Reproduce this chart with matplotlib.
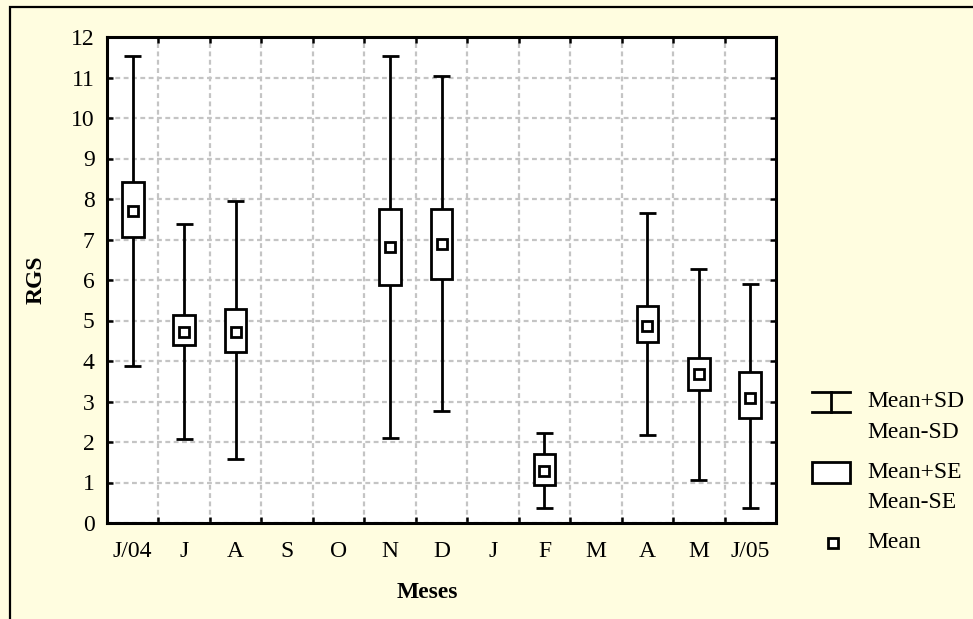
import matplotlib
matplotlib.use("Agg")
import matplotlib.pyplot as plt
from matplotlib.patches import Rectangle
from matplotlib.lines import Line2D
import numpy as np

plt.rcParams['font.family'] = ['Liberation Serif', 'DejaVu Serif']
plt.rcParams['lines.scale_dashes'] = False

# meses (J/04 .. J/05), sem dados em S, O, J, M
meses = ['J/04', 'J', 'A', 'S', 'O', 'N', 'D', 'J', 'F', 'M', 'A', 'M', 'J/05']
media = [7.70, 4.72, 4.72, None, None, 6.81, 6.89, None, 1.29, None, 4.87, 3.68, 3.08]
se_sup = [8.41, 5.14, 5.28, None, None, 7.75, 7.75, None, 1.70, None, 5.36, 4.08, 3.72]
se_inf = [7.07, 4.39, 4.23, None, None, 5.88, 6.03, None, 0.95, None, 4.46, 3.28, 2.60]
sd_sup = [11.54, 7.39, 7.94, None, None, 11.54, 11.03, None, 2.23, None, 7.65, 6.28, 5.91]
sd_inf = [3.88, 2.07, 1.59, None, None, 2.11, 2.77, None, 0.36, None, 2.18, 1.07, 0.38]

W, H = 973, 619
fs = 17
lw = 2.0
fig = plt.figure(figsize=(W / 100, H / 100), dpi=100, facecolor='#FFFDE0')
ax = fig.add_axes([107 / W, 1 - 523 / H, (776 - 107) / W, (523 - 37) / H])
ax.set_facecolor('white')

box_w = 0.42
cap_w = 0.33
for i in range(len(meses)):
    if media[i] is None:
        continue
    ax.vlines(i, sd_inf[i], sd_sup[i], color='black', lw=lw, zorder=3)
    ax.hlines([sd_inf[i], sd_sup[i]], i - cap_w / 2, i + cap_w / 2, color='black', lw=lw, zorder=3)
    ax.bar(i, se_sup[i] - se_inf[i], bottom=se_inf[i], width=box_w,
           facecolor='white', edgecolor='black', lw=lw, zorder=4)
    ax.plot(i, media[i], marker='s', ms=6.5, mfc='white', mec='black', mew=2, zorder=5)

ax.set_xlim(-0.5, len(meses) - 0.5)
ax.set_ylim(0, 12)
ax.set_xticks(range(len(meses)))
ax.set_xticklabels(meses)
ax.set_xticks(np.arange(0.5, len(meses) - 0.5, 1), minor=True)
ax.set_yticks(range(0, 13))
ax.tick_params(axis='x', which='major', length=0, labelsize=fs, pad=13)
ax.tick_params(axis='x', which='minor', direction='in', length=4, width=1.8, top=True, bottom=True)
ax.tick_params(axis='y', which='major', direction='in', length=4, width=1.8, left=True, right=True,
               labelsize=fs, pad=9)
ax.grid(True, which='minor', axis='x', color='#C4C4C4', lw=1.6, linestyle=(0, (3.5, 2.5)))
ax.grid(True, which='major', axis='y', color='#C4C4C4', lw=1.6, linestyle=(0, (3.5, 2.5)))
ax.set_axisbelow(True)
for s in ax.spines.values():
    s.set_linewidth(2.2)

fig.text(36 / W, 1 - 280 / H, 'RGS', rotation=90, ha='center', va='center',
         fontsize=fs, fontweight='bold')
fig.text(427 / W, 1 - 593 / H, 'Meses', ha='center', va='center',
         fontsize=fs, fontweight='bold')

# moldura externa
fig.add_artist(Rectangle((10 / W, -0.1), 1.2, 1 - 7 / H + 0.1, transform=fig.transFigure,
                         fill=False, edgecolor='black', lw=1.6))

# legenda
def px(x, y):
    return x / W, 1 - y / H

tf = fig.transFigure
x0, x1 = 812, 850
fig.add_artist(Line2D(*zip(px(x0, 391.5), px(x1, 391.5)), transform=tf, color='black', lw=lw))
fig.add_artist(Line2D(*zip(px(x0, 412), px(x1, 412)), transform=tf, color='black', lw=lw))
fig.add_artist(Line2D(*zip(px(831, 391.5), px(831, 412)), transform=tf, color='black', lw=lw))
fig.add_artist(Rectangle(px(x0, 483), (x1 - x0) / W, 21.5 / H, transform=tf,
                         facecolor='white', edgecolor='black', lw=lw))
fig.add_artist(Line2D([833 / W], [1 - 543 / H], transform=tf, marker='s', ms=6.5,
                      mfc='white', mec='black', mew=2))
for txt, y in [('Mean+SD', 401.5), ('Mean-SD', 432), ('Mean+SE', 473), ('Mean-SE', 503), ('Mean', 543)]:
    fig.text(867 / W, 1 - y / H, txt, ha='left', va='center', fontsize=fs)

fig.savefig('out.png', dpi=100, facecolor=fig.get_facecolor())
